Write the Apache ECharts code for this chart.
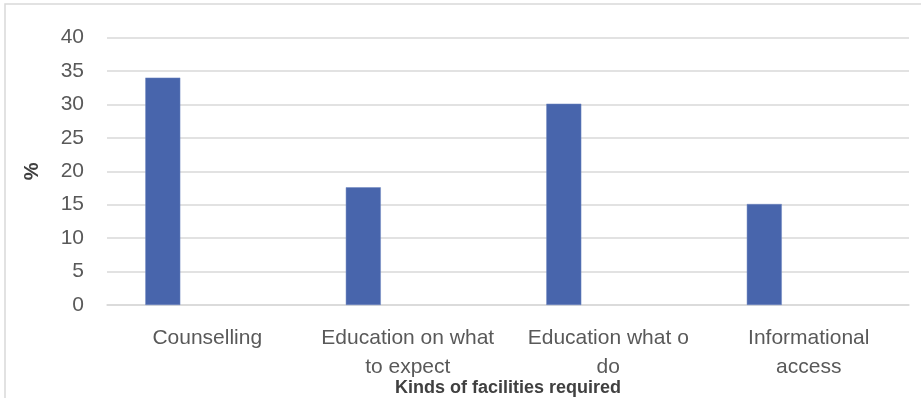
<!DOCTYPE html>
<html><head><meta charset="utf-8">
<script src="https://cdn.jsdelivr.net/npm/echarts@6/dist/echarts.min.js"></script>
<style>html,body{margin:0;padding:0;background:#fff}#c{width:921px;height:398px}</style>
</head><body><div id="c"></div>
<script>
// ---- data ----
const categories = ['Counselling', 'Education on what\nto expect', 'Education what o\ndo', 'Informational\naccess'];
const percentValues = [34, 17.6, 30.1, 15.1];
const emptySecondSeries = [null, null, null, null];
const yMin = 0, yMax = 40, yInterval = 5;
const xAxisTitle = 'Kinds of facilities required';
const yAxisTitle = '%';

const FONT = '"Liberation Sans", Arial, sans-serif';
const chart = echarts.init(document.getElementById('c'), null, {renderer: 'canvas'});
chart.setOption({
  animation: false,
  backgroundColor: '#ffffff',
  grid: {left: 107, right: 12, top: 37.5, bottom: 93, containLabel: false, outerBoundsMode: 'none'},
  graphic: [{
    type: 'rect', x: 5, y: 4, silent: true,
    shape: {x: 0, y: 0, width: 940, height: 420},
    style: {fill: 'none', stroke: '#d9d9d9', lineWidth: 1.5}
  }],
  xAxis: {
    type: 'category', data: categories,
    name: xAxisTitle, nameLocation: 'middle', nameGap: 74, nameMoveOverlap: false,
    nameTextStyle: {fontFamily: FONT, fontWeight: 'bold', fontSize: 18, color: '#404040'},
    axisLine: {show: true, lineStyle: {color: '#d9d9d9', width: 1.5}},
    axisTick: {show: false},
    axisLabel: {interval: 0, margin: 19, fontFamily: FONT, fontSize: 21, color: '#595959', lineHeight: 29, align: 'center'}
  },
  yAxis: {
    type: 'value', min: yMin, max: yMax, interval: yInterval,
    name: yAxisTitle, nameLocation: 'middle', nameGap: 65, nameRotate: 90, nameMoveOverlap: false,
    nameTextStyle: {fontFamily: FONT, fontWeight: 'bold', fontSize: 20, color: '#404040'},
    axisLine: {show: false}, axisTick: {show: false},
    axisLabel: {margin: 23, fontFamily: FONT, fontSize: 21, color: '#595959'},
    splitLine: {lineStyle: {color: '#d9d9d9', width: 1.5}}
  },
  series: [
    {type: 'bar', data: percentValues, barWidth: 35, barGap: '154%',
     itemStyle: {color: '#4865ac', borderColor: '#6f87c0', borderWidth: 0.5}},
    {type: 'bar', data: emptySecondSeries, barWidth: 35}
  ]
});
</script>
</body></html>
